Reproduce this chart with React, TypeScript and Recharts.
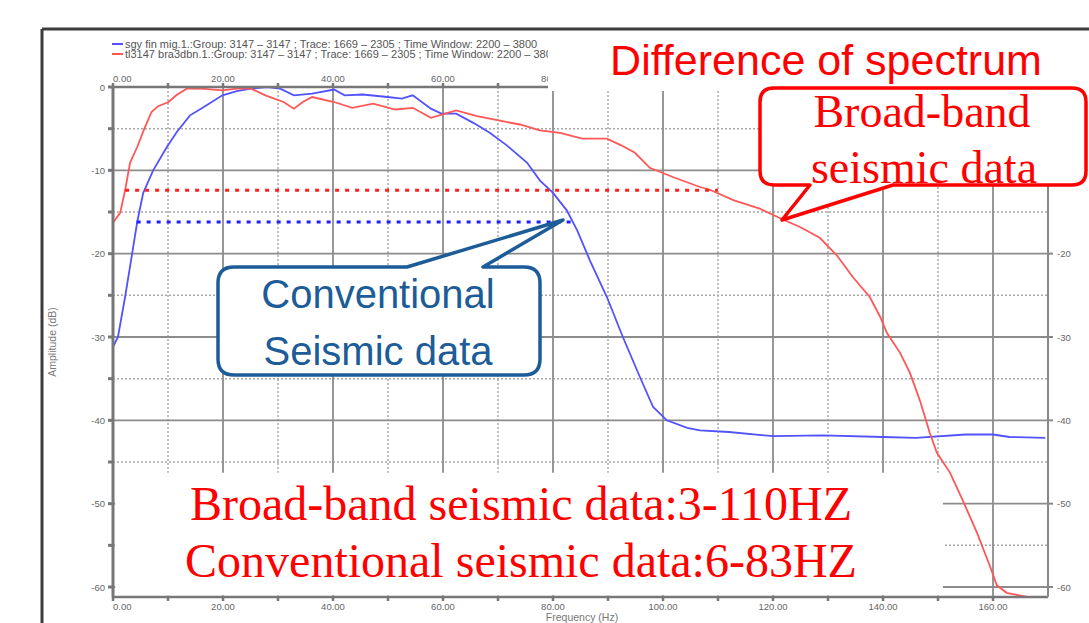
import { CartesianGrid, Legend, Line, LineChart, ReferenceArea, ReferenceLine, XAxis, YAxis } from 'recharts'

// conventional seismic data (blue)
const conventionalFreq = [
  0, 0.9, 2.2, 3.5, 4.4, 5.5, 7.3, 9.8, 11.6, 14, 16, 19.9, 22.5, 25.1, 28, 30.4, 32.9, 36.2, 40.2, 42.1,
  45.4, 49.9, 52.5, 54.5, 57.8, 59.7, 62.4, 65.5, 68.5, 71.6, 75.3, 77.6, 80, 82.5, 84.4, 86.7, 89.8, 92.7,
  95.8, 98.2, 100.7, 104.4, 106.7, 112, 120, 129, 140, 146, 155, 160, 163, 169.5,
]
const conventionalDb = [
  -31.2, -30, -25.2, -19.9, -16.2, -12.7, -10, -7.2, -5.4, -3.4, -2.6, -1, -0.5, -0.2, 0, -0.2, -1, -0.8, -0.3, -1,
  -0.9, -1.2, -1.4, -1, -2.6, -3.2, -3.2, -4.3, -5.5, -7, -9.1, -11.2, -12.7, -14.8, -17.2, -20.8, -25.2, -30,
  -34.8, -38.4, -40, -40.9, -41.2, -41.4, -41.9, -41.8, -42, -42.1, -41.7, -41.7, -42, -42.1,
]

// broad-band seismic data (red)
const broadbandFreq = [
  0, 1.3, 2.2, 3.1, 4.4, 5.7, 7, 8.2, 10.1, 11.5, 13.4, 16, 19.9, 22.5, 25.1, 27.7, 31, 32.9, 34.5, 36.2,
  40.2, 43.5, 47.3, 51.3, 54.5, 57.8, 60.4, 62.4, 66.2, 70.8, 74, 77.6, 81.3, 85.3, 89.8, 92.4, 94.9, 97.6,
  101.8, 106.7, 108.4, 112.9, 117.6, 121.8, 124.9, 128.5, 131.6, 134.5, 137.6, 139.5, 140.7, 143.1, 144.9,
  146.7, 148.5, 149.8, 152.2, 154.5, 157.1, 159.5, 160.7, 162.5, 166.2,
]
const broadbandDb = [
  -16.3, -15.1, -12.4, -9.1, -7.2, -5, -3, -2.3, -1.8, -1, -0.2, -0.2, -0.4, -0.2, -0.2, -1, -1.8, -2.6, -1.8, -1.2,
  -1.8, -2.5, -2, -2.7, -2.5, -3.7, -3.2, -2.8, -3.5, -4.1, -4.5, -5.2, -5.5, -6.2, -6.2, -7, -7.9, -9.7,
  -10.8, -12, -12.3, -13.6, -14.6, -15.9, -16.8, -18.1, -20.2, -22.8, -25.2, -27.6, -29.5, -31.9, -34.3,
  -37.6, -41.5, -43.9, -46.3, -49.6, -53.5, -57.6, -59.8, -60.7, -61.2,
]

// usable bands marked with the dotted lines
const broadbandBand = [2.2, 110]
const broadbandLevel = -12.4
const conventionalBand = [4.3, 83.5]
const conventionalLevel = -16.2

const seriesNames = [
  'sgy fin mig.1.:Group: 3147 \u2013 3147 ; Trace: 1669 \u2013 2305 ; Time Window: 2200 \u2013 3800',
  'tl3147 bra3dbn.1.:Group: 3147 \u2013 3147 ; Trace: 1669 \u2013 2305 ; Time Window: 2200 \u2013 3800',
]

const freqTicks = [0, 10, 20, 30, 40, 50, 60, 70, 80, 90, 100, 110, 120, 130, 140, 150, 160]
const topFreqTicks = [0, 10, 20, 30, 40, 50, 60, 70, 80]
const dbTicks = [-60, -55, -50, -45, -40, -35, -30, -25, -20, -15, -10, -5, 0]
const majorFreq = [20, 40, 60, 80, 100, 120, 140, 160]
const minorFreq = [10, 30, 50, 70, 90, 110, 130, 150]
const majorDb = [-60, -50, -40, -30, -20, -10]
const minorDb = [-55, -45, -35, -25, -15, -5]

const conventionalData = conventionalFreq.map((f, i) => ({ f, db: conventionalDb[i] }))
const broadbandData = broadbandFreq.map((f, i) => ({ f, db: broadbandDb[i] }))

const tickFont = { fontFamily: 'Liberation Sans', fontSize: 9.5, fill: '#666' }

function FreqTick(props: any) {
  const { x, y, payload, orientation } = props
  if (payload.value % 20 !== 0) return null
  return (
    <text
      x={x}
      y={orientation === 'top' ? y + 1 : y + 7}
      textAnchor={payload.value === 0 ? 'start' : 'middle'}
      {...tickFont}
    >
      {payload.value.toFixed(2)}
    </text>
  )
}

function DbTick(props: any) {
  const { x, y, payload, orientation } = props
  if (payload.value % 10 !== 0) return null
  return (
    <text x={x} y={y + 3.5} textAnchor={orientation === 'right' ? 'start' : 'end'} {...tickFont}>
      {payload.value}
    </text>
  )
}

function LegendRows(props: any) {
  const { payload } = props
  return (
    <div style={{ fontFamily: 'Liberation Sans', fontSize: 11, lineHeight: '10px', color: '#555', whiteSpace: 'nowrap' }}>
      {payload.map((p: any) => (
        <div key={p.value} style={{ display: 'flex', alignItems: 'center', height: 10 }}>
          <span style={{ display: 'inline-block', flexShrink: 0, width: 11, height: 2, background: p.color, marginRight: 2 }} />
          <span style={{ flexShrink: 0 }}>{p.value}</span>
        </div>
      ))}
    </div>
  )
}

export default function App() {
  return (
    <div style={{ position: 'absolute', left: 0, top: 0, width: 1089, height: 623, background: '#fff', overflow: 'hidden' }}>
      <LineChart width={1089} height={623} margin={{ top: 67, right: 6, bottom: 6, left: 88 }}>
        <CartesianGrid
          xAxisId='bottom'
          yAxisId='left'
          verticalValues={minorFreq}
          horizontalValues={minorDb}
          stroke='#a8a8a8'
          strokeWidth={1.5}
          strokeDasharray='2 2'
        />
        <CartesianGrid
          xAxisId='bottom'
          yAxisId='left'
          verticalValues={majorFreq}
          horizontalValues={majorDb}
          stroke='#8c8c8c'
          strokeWidth={1.8}
        />
        <XAxis
          xAxisId='bottom'
          type='number'
          dataKey='f'
          domain={[0, 170]}
          ticks={freqTicks}
          height={20}
          tickSize={4}
          tickMargin={2}
          stroke='#777'
          strokeWidth={2.5}
          tick={<FreqTick orientation='bottom' />}
          allowDataOverflow
        />
        <XAxis
          xAxisId='top'
          orientation='top'
          type='number'
          dataKey='f'
          domain={[0, 170]}
          ticks={topFreqTicks}
          height={20}
          tickSize={4}
          tickMargin={2}
          stroke='#777'
          strokeWidth={2.5}
          tick={<FreqTick orientation='top' />}
          allowDataOverflow
        />
        <YAxis
          yAxisId='left'
          type='number'
          domain={[-61.2, 0]}
          ticks={dbTicks}
          width={25}
          tickSize={5}
          tickMargin={3}
          stroke='#777'
          strokeWidth={3}
          tick={<DbTick orientation='left' />}
          allowDataOverflow
        />
        <YAxis
          yAxisId='right'
          orientation='right'
          type='number'
          domain={[-61.2, 0]}
          ticks={dbTicks.filter((v) => v % 10 === 0)}
          width={35}
          tickSize={5}
          tickMargin={4}
          stroke='#888'
          strokeWidth={2}
          tick={<DbTick orientation='right' />}
          allowDataOverflow
        />
        <ReferenceArea
          xAxisId='bottom'
          yAxisId='left'
          x1={0.4}
          x2={150.9}
          y1={-61}
          y2={-46.3}
          fill='#fff'
          fillOpacity={1}
          stroke='none'
        />
        <Line
          xAxisId='bottom'
          yAxisId='left'
          data={conventionalData}
          dataKey='db'
          name={seriesNames[0]}
          type='linear'
          stroke='#5252ff'
          strokeWidth={1.8}
          dot={false}
          isAnimationActive={false}
        />
        <Line
          xAxisId='bottom'
          yAxisId='left'
          data={broadbandData}
          dataKey='db'
          name={seriesNames[1]}
          type='linear'
          stroke='#ff5757'
          strokeWidth={1.8}
          dot={false}
          isAnimationActive={false}
        />
        <ReferenceLine
          xAxisId='bottom'
          yAxisId='left'
          segment={[
            { x: broadbandBand[0], y: broadbandLevel },
            { x: broadbandBand[1], y: broadbandLevel },
          ]}
          stroke='#ff2020'
          strokeWidth={3}
          strokeDasharray='4 6'
        />
        <ReferenceLine
          xAxisId='bottom'
          yAxisId='left'
          segment={[
            { x: conventionalBand[0], y: conventionalLevel },
            { x: conventionalBand[1], y: conventionalLevel },
          ]}
          stroke='#2020ff'
          strokeWidth={3}
          strokeDasharray='4 6'
        />
        <Legend
          verticalAlign='middle'
          align='center'
          layout='horizontal'
          wrapperStyle={{ top: 39, left: 112, width: 436, height: 22, overflow: 'hidden' }}
          content={<LegendRows />}
        />
      </LineChart>

      {/* annotations drawn over the chart */}
      <svg width={1089} height={623} style={{ position: 'absolute', left: 0, top: 0, pointerEvents: 'none' }}>
        <rect x={548} y={31} width={541} height={60} fill='#fff' />
        <line x1={42} y1={29} x2={1089} y2={29} stroke='#3c3c3c' strokeWidth={3} />
        <line x1={42} y1={29} x2={42} y2={623} stroke='#3c3c3c' strokeWidth={3} />
        <text
          transform='translate(56,342) rotate(-90)'
          textAnchor='middle'
          fontFamily='Liberation Sans'
          fontSize={10.5}
          fill='#777'
        >
          Amplitude (dB)
        </text>
        <text x={582} y={621} textAnchor='middle' fontFamily='Liberation Sans' fontSize={10.5} fill='#777'>
          Frequency (Hz)
        </text>

        <text x={826} y={75} textAnchor='middle' fontFamily='Liberation Sans' fontSize={43} fill='#ff0000'>
          Difference of spectrum
        </text>

        <path
          d='M 774 88 H 1072 Q 1086 88 1086 102 V 171 Q 1086 185 1072 185 H 893 L 782 220 L 810 185 H 774 Q 760 185 760 171 V 102 Q 760 88 774 88 Z'
          fill='#fff'
          stroke='#ff0000'
          strokeWidth={3.5}
          strokeLinejoin='round'
        />
        <text x={922} y={127} textAnchor='middle' fontFamily='Liberation Serif' fontSize={46} fill='#ff0000'>
          Broad-band
        </text>
        <text x={924} y={183} textAnchor='middle' fontFamily='Liberation Serif' fontSize={46} fill='#ff0000'>
          seismic data
        </text>

        <path
          d='M 234 267 H 407 L 563 220 L 483 267 H 524 Q 540 267 540 283 V 359 Q 540 375 524 375 H 234 Q 218 375 218 359 V 283 Q 218 267 234 267 Z'
          fill='#fff'
          stroke='#1c5c98'
          strokeWidth={3.5}
          strokeLinejoin='round'
        />
        <text x={378} y={308} textAnchor='middle' fontFamily='Liberation Sans' fontSize={40} fill='#1c5c98'>
          Conventional
        </text>
        <text x={378} y={365} textAnchor='middle' fontFamily='Liberation Sans' fontSize={40} fill='#1c5c98'>
          Seismic data
        </text>

        <text x={521} y={520} textAnchor='middle' fontFamily='Liberation Serif' fontSize={48} fill='#ff0000'>
          Broad-band seismic data:3-110HZ
        </text>
        <text x={521} y={577} textAnchor='middle' fontFamily='Liberation Serif' fontSize={48} fill='#ff0000'>
          Conventional seismic data:6-83HZ
        </text>
      </svg>
    </div>
  )
}
